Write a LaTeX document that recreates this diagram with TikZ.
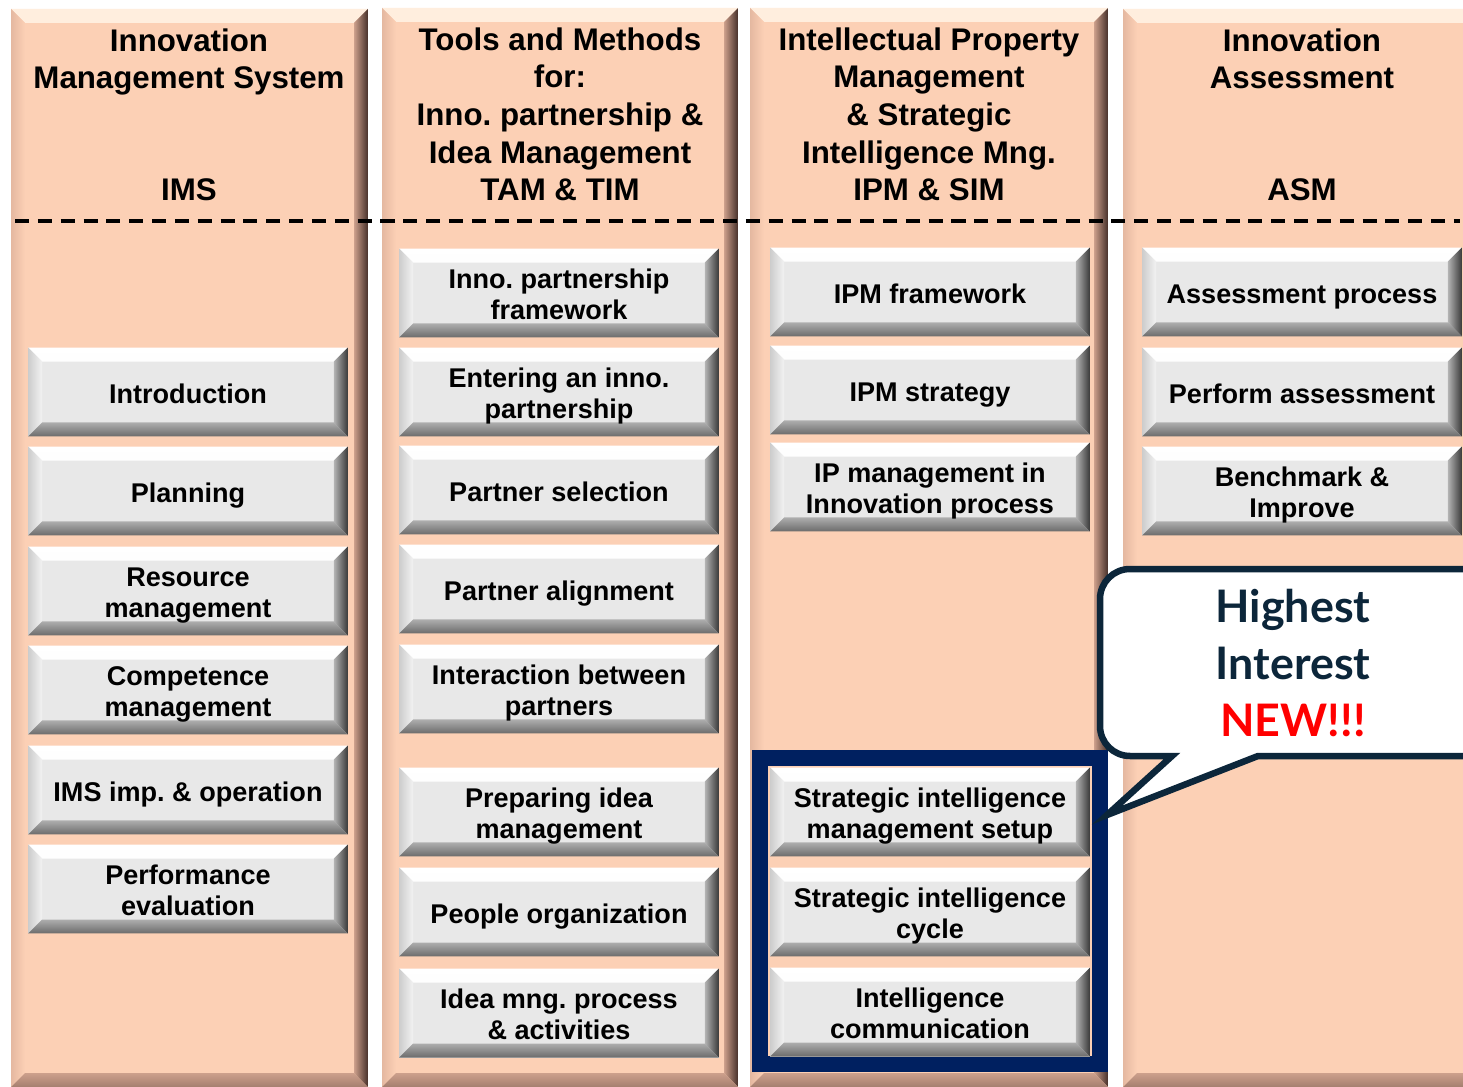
\documentclass[tikz,border=0pt]{standalone}
\usepackage{fontspec}
\setmainfont{Liberation Sans}
\newfontfamily\calloutfont{Lato}
\frenchspacing

\definecolor{peach}{RGB}{252,208,181}
\definecolor{peachlight}{RGB}{255,238,222}
\definecolor{peachshade}{RGB}{205,160,140}
\definecolor{peachdark}{RGB}{70,48,42}
\definecolor{boxface}{RGB}{232,232,232}
\definecolor{framenavy}{RGB}{0,32,96}
\definecolor{notenavy}{RGB}{12,38,58}

% four bevel faces inside the current path: width, top, left, right, bottom
\newcommand{\bevelfaces}[5]{%
  \shade[#2] (path picture bounding box.north west) -- (path picture bounding box.north east)
    -- ([shift={(-#1,-#1)}]path picture bounding box.north east)
    -- ([shift={(#1,-#1)}]path picture bounding box.north west) -- cycle;
  \shade[#3] (path picture bounding box.north west) -- ([shift={(#1,-#1)}]path picture bounding box.north west)
    -- ([shift={(#1,#1)}]path picture bounding box.south west)
    -- (path picture bounding box.south west) -- cycle;
  \shade[#4] (path picture bounding box.north east) -- (path picture bounding box.south east)
    -- ([shift={(-#1,#1)}]path picture bounding box.south east)
    -- ([shift={(-#1,-#1)}]path picture bounding box.north east) -- cycle;
  \shade[#5] (path picture bounding box.south west) -- ([shift={(#1,#1)}]path picture bounding box.south west)
    -- ([shift={(-#1,#1)}]path picture bounding box.south east)
    -- (path picture bounding box.south east) -- cycle;
}

\tikzset{
  column/.style={fill=peach, path picture={\bevelfaces{0.28cm}
      {top color=peachlight, bottom color=peach!60!peachlight}
      {left color=peachshade!50!peach, right color=peach}
      {left color=peachshade, right color=peachdark}
      {top color=peachshade, bottom color=peachshade!70!peachdark}}},
  topic/.style={rectangle, fill=boxface, minimum width=6.4cm, minimum height=1.78cm,
    inner sep=0pt, align=center, font=\fontsize{15.4}{18}\selectfont\bfseries,
    execute at begin node={\rule{0pt}{16.5pt}},
    execute at end node={\rule[-3.5pt]{0pt}{3.5pt}},
    path picture={\bevelfaces{0.28cm}
      {top color=white, bottom color=white!60!boxface}
      {left color=black!20, right color=black!5}
      {left color=black!30, right color=black!78}
      {top color=black!32, bottom color=black!58}}},
  twoline/.style={topic, execute at begin node={\rule{0pt}{34pt}}},
  head/.style={font=\fontsize{17.8}{21.5}\selectfont\bfseries, align=center, inner sep=0pt, anchor=north},
  abbr/.style={font=\fontsize{17.8}{21.5}\selectfont\bfseries, inner sep=0pt, anchor=base},
  divider/.style={line width=2.4pt, dash pattern=on 8pt off 5pt},
  siframe/.style={draw=framenavy, line width=0.32cm},
  callout/.style={draw=notenavy, fill=white, line width=0.13cm, line join=miter}
}

\begin{document}
\begin{tikzpicture}[x=0.02cm,y=-0.02cm]
\useasboundingbox (0,0) rectangle (1463,1087);
\clip (0,0) rectangle (1463,1087);
\fill[white] (0,0) rectangle (1463,1087);

% columns
\path[column] (11,9) rectangle (368,1087);
\path[column] (382,8) rectangle (738,1087);
\path[column] (750,8) rectangle (1108,1087);
\path[column] (1123,9) rectangle (1490,1087);

\draw[divider] (15,221) -- (1460,221);

% headers
\node[head] (imshead) at (189,28) {Innovation\\Management System};
\node[abbr] (imsabbr) at (189,201) {IMS};
\node[head] (tamhead) at (560,27) {Tools and Methods\\for:\\Inno. partnership \&\\Idea Management};
\node[abbr] (tamabbr) at (560,201) {TAM \& TIM};
\node[head] (ipmhead) at (929,27) {Intellectual Property\\Management\\\& Strategic\\Intelligence Mng.};
\node[abbr] (ipmabbr) at (929,201) {IPM \& SIM};
\node[head] (asmhead) at (1302,28) {Innovation\\Assessment};
\node[abbr] (asmabbr) at (1302,201) {ASM};

% IMS
\node[topic] (ims1) at (188,392) {Introduction};
\node[topic] (ims2) at (188,491) {Planning};
\node[twoline] (ims3) at (188,591) {Resource\\management};
\node[twoline] (ims4) at (188,690) {Competence\\management};
\node[topic] (ims5) at (188,790) {IMS imp. \& operation};
\node[twoline] (ims6) at (188,889) {Performance\\evaluation};

% TAM & TIM
\node[twoline] (tam1) at (559,293) {Inno. partnership\\framework};
\node[twoline] (tam2) at (559,392) {Entering an inno.\\partnership};
\node[topic] (tam3) at (559,490) {Partner selection};
\node[topic] (tam4) at (559,589) {Partner alignment};
\node[twoline] (tam5) at (559,689) {Interaction between\\partners};
\node[twoline] (tam6) at (559,812) {Preparing idea\\management};
\node[topic] (tam7) at (559,912) {People organization};
\node[twoline] (tam8) at (559,1013) {Idea mng. process\\\& activities};

% IPM & SIM
\draw[siframe] (760,758) rectangle (1100,1064);
\node[topic] (ipm1) at (930,292) {IPM framework};
\node[topic] (ipm2) at (930,390) {IPM strategy};
\node[twoline] (ipm3) at (930,487) {IP management in\\Innovation process};
\node[twoline] (sim1) at (930,812) {Strategic intelligence\\management setup};
\node[twoline] (sim2) at (930,912) {Strategic intelligence\\cycle};
\node[twoline] (sim3) at (930,1012) {Intelligence\\communication};

% ASM
\node[topic] (asm1) at (1302,292) {Assessment process};
\node[topic] (asm2) at (1302,392) {Perform assessment};
\node[twoline] (asm3) at (1302,491) {Benchmark \&\\Improve};

% callout
\draw[callout] (1172,756) -- (1107,815) -- (1258,756) -- (1520,756) -- (1520,569) -- (1130,569)
  .. controls (1113.4,569) and (1100,582.4) .. (1100,599) -- (1100,726)
  .. controls (1100,742.6) and (1113.4,756) .. (1130,756) -- cycle;
\node[font=\calloutfont\bfseries\fontsize{25.5}{32.5}\selectfont, text=notenavy, align=center,
  inner sep=0pt, anchor=north] (note) at (1293,589) {Highest\\Interest\\\textcolor{red}{NEW!!!}};
\end{tikzpicture}
\end{document}
